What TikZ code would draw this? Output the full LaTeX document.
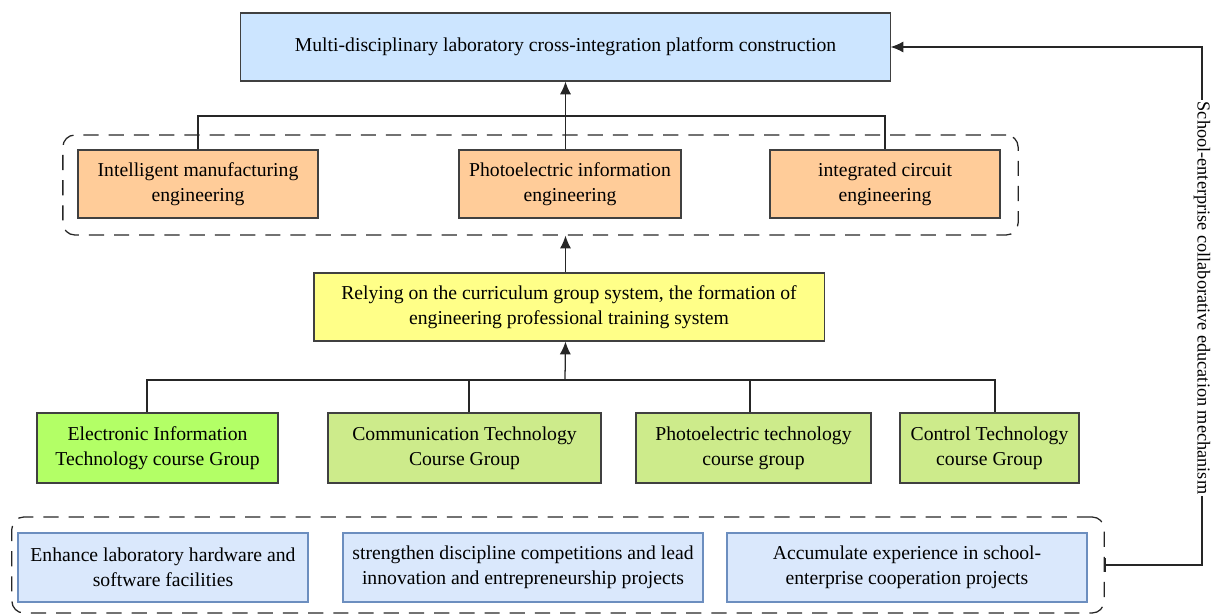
\documentclass[tikz,border=0pt]{standalone}
\usepackage{fontspec}
\setmainfont{Liberation Serif}
\usetikzlibrary{arrows.meta}
\definecolor{platformblue}{HTML}{CCE5FF}
\definecolor{majororange}{HTML}{FFCC99}
\definecolor{systemyellow}{HTML}{FFFF88}
\definecolor{groupgreen}{HTML}{CDEB8B}
\definecolor{brightgreen}{HTML}{B3FF66}
\definecolor{measureblue}{HTML}{DAE8FC}
\definecolor{measureline}{HTML}{6C8EBF}
\begin{document}
\begin{tikzpicture}[x=0.025cm, y=-0.025cm,
    textbox/.style ={draw=black!75, thick, align=center, inner sep=2pt,
        minimum height=1.7cm, font=\fontsize{14}{18}\selectfont},
    platform/.style ={textbox, fill=platformblue},
    major/.style ={textbox, fill=majororange},
    training/.style ={textbox, fill=systemyellow},
    course/.style ={textbox, fill=groupgreen, minimum height=1.75cm},
    measure/.style ={textbox, draw=measureline, fill=measureblue, minimum height=1.725cm},
    group/.style ={draw=black!85, line width=0.9pt, dash pattern=on 0.38cm off 0.25cm, rounded corners=0.3cm},
    link/.style ={line width=0.9pt, black!85},
    up/.style ={link, -{Latex[length=3.2mm, width=2.8mm]}}]
   \useasboundingbox (0,0) rectangle (1211,615);
   % dashed groups
   \node[group, minimum width=23.875cm, minimum height=2.5cm] (grpA) at (540.5,185) {};
   \node[group, minimum width=27.3cm, minimum height=2.4cm] (grpB) at (558,565) {};
   % top level
   \node[platform, minimum width=16.225cm] (top) at (565.5,47) {Multi-disciplinary laboratory cross-integration platform construction};
   % majors
   \node[major, minimum width=6cm] (intel) at (198,184) {Intelligent manufacturing\\engineering};
   \node[major, minimum width=5.55cm] (photo) at (570,184) {Photoelectric information\\engineering};
   \node[major, minimum width=5.75cm] (integ) at (885,184) {integrated circuit\\engineering};
   % training system
   \node[training, minimum width=12.75cm] (yellow) at (569,307) {Relying on the curriculum group system, the formation of\\engineering professional training system};
   % course groups
   \node[course, fill=brightgreen, minimum width=6.025cm] (elec) at (157.5,448) {Electronic Information\\Technology course Group};
   \node[course, minimum width=6.825cm] (comm) at (464.5,448) {Communication Technology\\Course Group};
   \node[course, minimum width=5.875cm] (phot) at (753.5,448) {Photoelectric technology\\course group};
   \node[course, minimum width=4.475cm] (ctrl) at (989.5,448) {Control Technology\\course Group};
   % measures
   \node[measure, minimum width=7.25cm] (hard) at (163,567.5) {Enhance laboratory hardware and\\software facilities};
   \node[measure, minimum width=9cm] (comp) at (523,567.5) {strengthen discipline competitions and lead\\innovation and entrepreneurship projects};
   \node[measure, minimum width=9cm] (coop) at (907,567.5) {Accumulate experience in school-\\enterprise cooperation projects};
   % connectors
   \coordinate (topbus) at (565,116);
   \coordinate (botbus) at (565,380);
   \coordinate (fb) at (1202,47);
   \draw[link] (intel.north) |- (topbus) -| (integ.north);
   \draw[up] (top.south |- photo.north) -- (top.south);
   \draw[up] (top.south |- yellow.north) -- (top.south |- grpA.south);
   \draw[link] ([xshift=-0.26cm]elec.north) |- (botbus) -| ([xshift=0.14cm]ctrl.north);
   \draw[link] ([xshift=0.11cm]comm.north) -- ([xshift=0.11cm]comm.north |- botbus);
   \draw[link] ([xshift=-0.09cm]phot.north) -- ([xshift=-0.09cm]phot.north |- botbus);
   \draw[up] (botbus) -- (top.south |- yellow.south);
   \draw[link, {Bar[width=3.5mm]}-{Latex[length=3.2mm, width=2.8mm]}] (grpB.east) -| (fb) -- (top.east);
   \node[rotate=-90, fill=white, inner sep=1pt, font=\fontsize{13}{16}\selectfont] (mech) at (1202,298) {School-enterprise collaborative education mechanism};
\end{tikzpicture}
\end{document}
